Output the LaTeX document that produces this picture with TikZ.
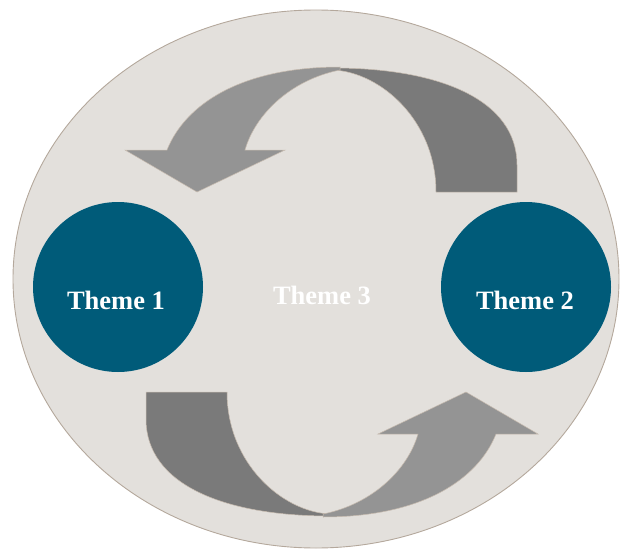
\documentclass[tikz,border=0pt]{standalone}
\usepackage{fontspec}
\setmainfont{Liberation Serif}
\definecolor{bgfill}{HTML}{E3E0DC}
\definecolor{bgline}{HTML}{B4A89C}
\definecolor{arrdark}{HTML}{7A7A7A}
\definecolor{arrlight}{HTML}{949494}
\definecolor{arredge}{HTML}{C8BCB0}
\definecolor{teal}{HTML}{005B79}
\tikzset{
  bgell/.style={fill=bgfill, draw=bgline, line width=0.9pt},
  themecircle/.style={circle, fill=teal, draw=none, minimum size=170pt, inner sep=0pt},
  themetext/.style={text=white, font=\fontsize{26.5}{30}\selectfont\bfseries, anchor=base, inner sep=0pt},
  darkpart/.style={fill=arrdark, draw=arredge, line width=0.5pt},
  lightpart/.style={fill=arrlight, draw=arredge, line width=0.5pt},
}
\newcommand{\cyclearrow}{%
  \draw[darkpart] (333,68) .. controls (440,68) and (517,100) .. (517,165)
     -- (517,192) -- (436,192)
     .. controls (436,120) and (380,72) .. (333,70) -- cycle;
  \draw[lightpart] (340,67) .. controls (240,67) and (185,105) .. (167,150)
     -- (125,150) -- (197,192) -- (285,150) -- (245,150)
     .. controls (255,115) and (290,80) .. (340,70) -- cycle;
}
\begin{document}
\begin{tikzpicture}[x=1pt,y=-1pt]
\useasboundingbox (0,0) rectangle (621,551);
\path[bgell] (316,279) ellipse [x radius=303, y radius=269];
% top arrow
\cyclearrow
% bottom arrow (point reflection)
\begin{scope}[rotate around={180:(331.5,292)}]
\cyclearrow
\end{scope}
\node[themecircle] (c1) at (118,287) {};
\node[themecircle] (c2) at (526,287) {};
\node[themetext] (t1) at (116,309) {Theme 1};
\node[themetext] (t2) at (525,309) {Theme 2};
\node[themetext] (t3) at (322,304) {Theme 3};
\end{tikzpicture}
\end{document}
